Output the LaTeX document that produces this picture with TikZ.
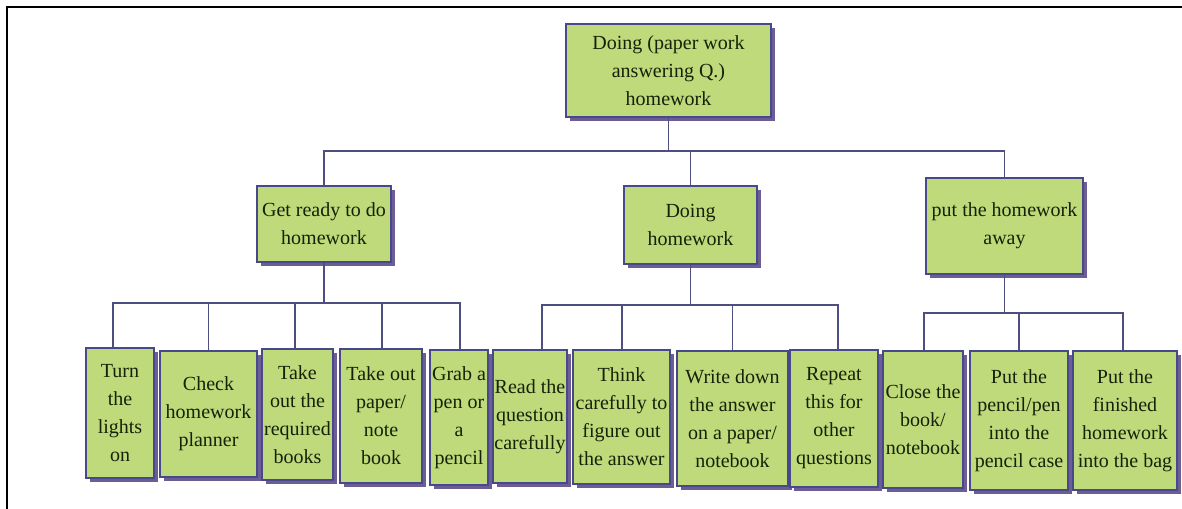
\documentclass[tikz,border=0pt]{standalone}
\usepackage{fontspec}
\setmainfont{Liberation Serif}
\usetikzlibrary{shadows}

\definecolor{boxfill}{RGB}{190,218,122}
\definecolor{boxline}{RGB}{72,72,140}
\definecolor{linkcol}{RGB}{78,78,128}
\definecolor{shadowcol}{RGB}{92,76,138}
\definecolor{txtcol}{RGB}{22,34,8}

\begin{document}
\begin{tikzpicture}[
    x=0.75pt, y=-0.75pt,
    box/.style={rectangle, draw=boxline, line width=1.2pt, fill=boxfill, text=txtcol,
      align=center, inner sep=1pt, font=\fontsize{15}{21}\selectfont,
      drop shadow={shadow xshift=3pt, shadow yshift=-3pt, fill=shadowcol, opacity=0.9}},
    link/.style={draw=linkcol, line width=1.1pt}
  ]
  \useasboundingbox (0,0) rectangle (1182,509);

  % frame
  \draw[line width=2pt] (1182,7) -- (7,7) -- (7,509);

  % top task
  \node[box, minimum width=153.75pt, minimum height=69.75pt] (root) at (668.5,70.5)
    {Doing (paper work\\answering Q.)\\homework};

  % three stages
  \node[box, minimum width=100.5pt, minimum height=57pt] (ready) at (324,224)
    {Get ready to do\\homework};
  \node[box, minimum width=99.75pt, minimum height=58.5pt] (doing) at (690.5,225)
    {Doing\\homework};
  \node[box, minimum width=117.75pt, minimum height=72pt] (away) at (1004.5,226)
    {put the homework\\away};

  % getting ready
  \node[box, minimum width=51pt, minimum height=97.5pt] (turn) at (120,413)
    {Turn\\the\\lights\\on};
  \node[box, minimum width=72.75pt, minimum height=94.5pt] (check) at (208.5,414)
    {Check\\homework\\planner};
  \node[box, minimum width=53.25pt, minimum height=98.25pt] (books) at (297.5,414.5)
    {Take\\out the\\required\\books};
  \node[box, minimum width=61.5pt, minimum height=100.5pt] (paper) at (381,416)
    {Take out\\paper/\\note\\book};
  \node[box, minimum width=43.5pt, minimum height=101.25pt] (grab) at (459,417.5)
    {Grab a\\pen or\\a\\pencil};

  % doing it
  \node[box, minimum width=55.5pt, minimum height=99.75pt] (read) at (530,416.5)
    {Read the\\question\\carefully};
  \node[box, minimum width=72.75pt, minimum height=100.5pt] (think) at (621.5,417)
    {Think\\carefully to\\figure out\\the answer};
  \node[box, minimum width=83.25pt, minimum height=101.25pt] (write) at (732.5,418.5)
    {Write down\\the answer\\on a paper/\\notebook};
  \node[box, minimum width=66pt, minimum height=102.75pt] (repeat) at (834,418.5)
    {Repeat\\this for\\other\\questions};

  % putting away
  \node[box, minimum width=60pt, minimum height=102.75pt] (close) at (923,419.5)
    {Close the\\book/\\notebook};
  \node[box, minimum width=73.5pt, minimum height=104.25pt] (pencil) at (1019,420.5)
    {Put the\\pencil/pen\\into the\\pencil case};
  \node[box, minimum width=78pt, minimum height=104.25pt] (bag) at (1125,420.5)
    {Put the\\finished\\homework\\into the bag};

  % connectors
  \draw[link] (root.south) -- ++(0,33) coordinate (bus0);
  \foreach \m in {ready,doing,away}
    \draw[link] (bus0) -| (\m.north);

  \draw[link] (ready.south) -- ++(0,40) coordinate (bus1);
  \foreach \c/\dx in {turn/-5.25,check/0,books/-2,paper/0.75,grab/0.75}
    \draw[link] (bus1) -| ([xshift=\dx pt]\c.north);

  \draw[link] (doing.south) -- ++(0,40) coordinate (bus2);
  \foreach \c/\dx in {read/9,think/0.4,write/0,repeat/3}
    \draw[link] (bus2) -| ([xshift=\dx pt]\c.north);

  \draw[link] (away.south) -- ++(0,38) coordinate (bus3);
  \foreach \c/\dx in {close/0.75,pencil/0,bag/-1.5}
    \draw[link] (bus3) -| ([xshift=\dx pt]\c.north);

\end{tikzpicture}
\end{document}
